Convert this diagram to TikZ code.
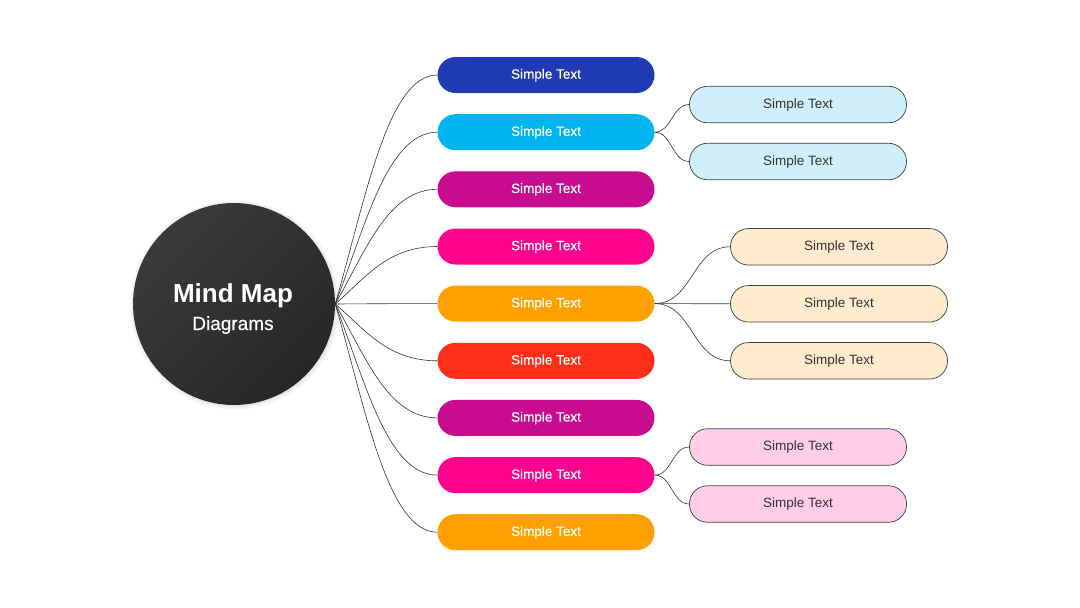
\documentclass[tikz,border=0pt]{standalone}
\usepackage{fontspec}
\setmainfont{Liberation Sans}
\newfontfamily\medfont{Liberation Sans}[FakeBold=0.5]
\usetikzlibrary{calc}

\definecolor{mmnavy}{HTML}{1F3AB4}
\definecolor{mmcyan}{HTML}{00B4EF}
\definecolor{mmplum}{HTML}{C70C90}
\definecolor{mmpink}{HTML}{FF038F}
\definecolor{mmamber}{HTML}{FFA000}
\definecolor{mmred}{HTML}{FF2E1A}
\definecolor{mmsky}{HTML}{CFEFFB}
\definecolor{mmcream}{HTML}{FFEBCD}
\definecolor{mmrose}{HTML}{FFCDE8}

\begin{document}
\begin{tikzpicture}[x=1pt, y=-1pt,
    every node/.style={font=\fontsize{13.5}{16}\selectfont},
    branch/.style={rounded corners=18pt, minimum width=217pt, minimum height=36pt, inner sep=0pt,
                   text height=1.4ex, text depth=0pt, text=white, font=\fontsize{13.5}{16}\medfont},
    leaf/.style={draw=black!75, line width=0.7pt, rounded corners=18pt, minimum width=217pt, minimum height=36.5pt,
                 inner sep=0pt, text height=1.4ex, text depth=0pt, text=black!80},
    link/.style={draw=black!80, line width=0.6pt}
  ]
  \useasboundingbox[fill=white] (0,0) rectangle (1080,608);

  % centre with soft shadow
  \foreach \r in {1,...,5}
    \fill[black, opacity=0.018] (235,305) circle (100+\r);
  \node[circle, minimum size=202pt, inner sep=0pt, top color=black!77, bottom color=black!85, shading angle=45] (hub) at (234,304) {};
  \node[anchor=base, text=white, font=\fontsize{26}{30}\selectfont\bfseries] (title) at (233,302) {Mind Map};
  \node[anchor=base, text=white, font=\fontsize{19}{22}\medfont] (subtitle) at (233,330) {Diagrams};

  % first level
  \node[branch, fill=mmnavy]  (b1) at (546,75)    {Simple Text};
  \node[branch, fill=mmcyan]  (b2) at (546,132.2) {Simple Text};
  \node[branch, fill=mmplum]  (b3) at (546,189.3) {Simple Text};
  \node[branch, fill=mmpink]  (b4) at (546,246.5) {Simple Text};
  \node[branch, fill=mmamber] (b5) at (546,303.6) {Simple Text};
  \node[branch, fill=mmred]   (b6) at (546,360.8) {Simple Text};
  \node[branch, fill=mmplum]  (b7) at (546,417.9) {Simple Text};
  \node[branch, fill=mmpink]  (b8) at (546,475.1) {Simple Text};
  \node[branch, fill=mmamber] (b9) at (546,532.2) {Simple Text};

  % second level
  \node[leaf, fill=mmsky]   (l21) at (798,104.5) {Simple Text};
  \node[leaf, fill=mmsky]   (l22) at (798,161.5) {Simple Text};
  \node[leaf, fill=mmcream] (l51) at (839,246.8) {Simple Text};
  \node[leaf, fill=mmcream] (l52) at (839,303.8) {Simple Text};
  \node[leaf, fill=mmcream] (l53) at (839,360.8) {Simple Text};
  \node[leaf, fill=mmrose]  (l81) at (798,447)   {Simple Text};
  \node[leaf, fill=mmrose]  (l82) at (798,504)   {Simple Text};

  \foreach \i in {1,...,9}
    \draw[link] (hub.east) .. controls ($(hub.east)!0.45!(hub.east |- b\i.west)+(30,0)$) and +(-50,0) .. (b\i.west);

  \draw[link] (b2.east) .. controls +(17,0) and +(-17,0) .. (l21.west);
  \draw[link] (b2.east) .. controls +(17,0) and +(-17,0) .. (l22.west);
  \draw[link] (b5.east) .. controls +(38,0) and +(-38,0) .. (l51.west);
  \draw[link] (b5.east) -- (l52.west);
  \draw[link] (b5.east) .. controls +(38,0) and +(-38,0) .. (l53.west);
  \draw[link] (b8.east) .. controls +(17,0) and +(-17,0) .. (l81.west);
  \draw[link] (b8.east) .. controls +(17,0) and +(-17,0) .. (l82.west);
\end{tikzpicture}
\end{document}
